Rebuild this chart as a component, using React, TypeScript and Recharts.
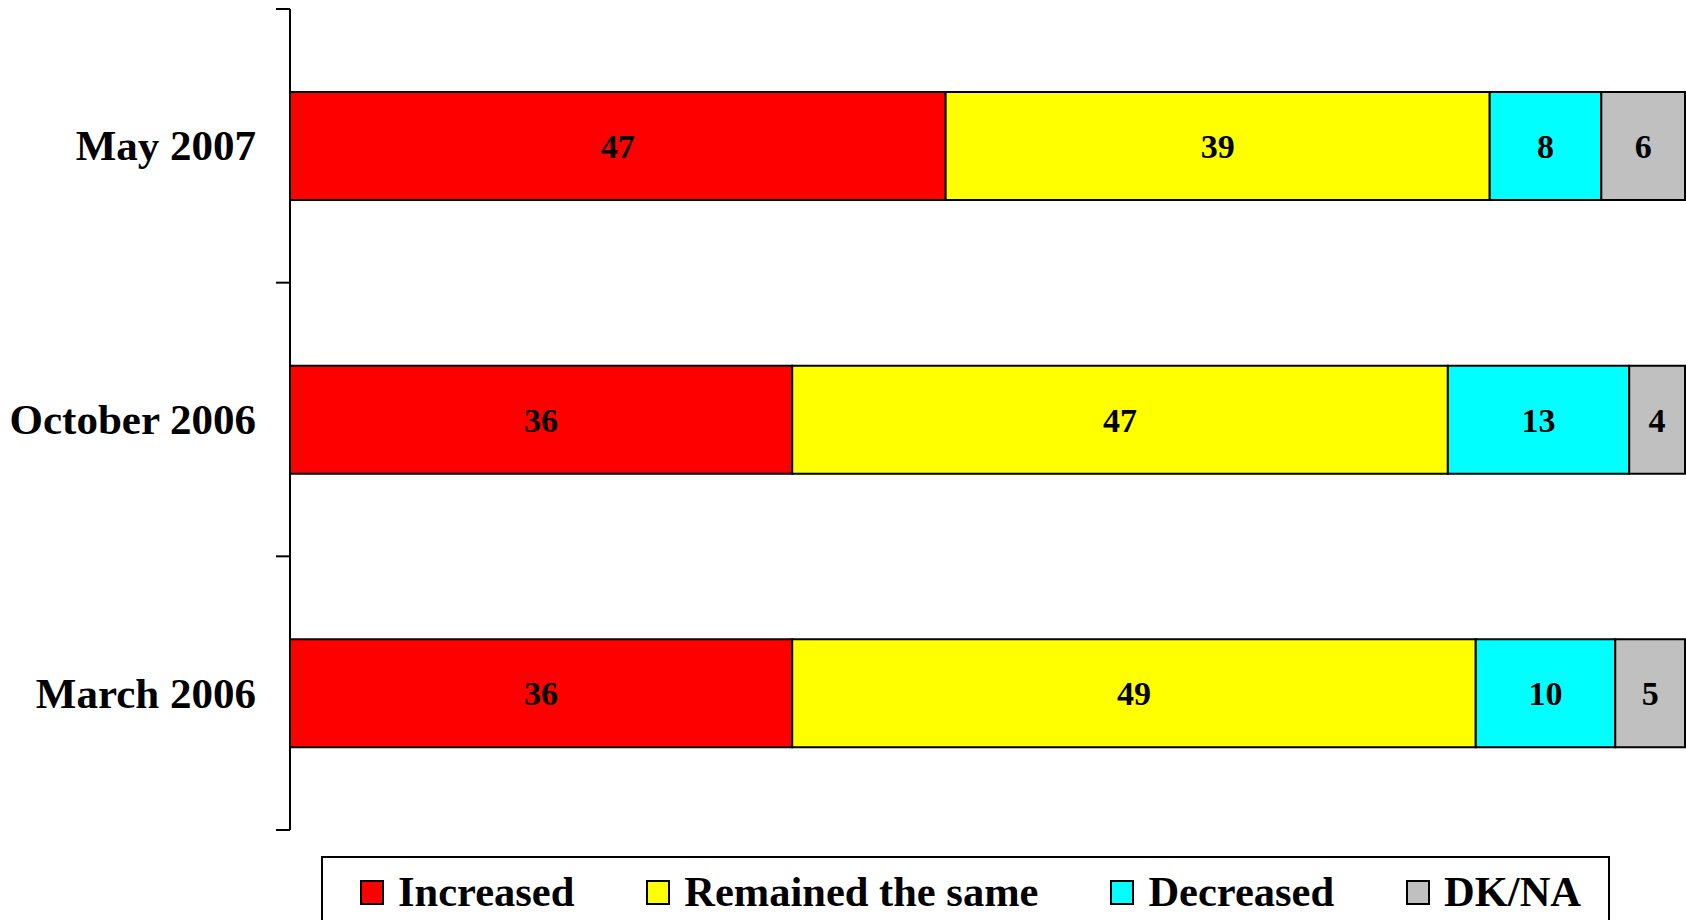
import React from 'react';
import { BarChart, Bar, XAxis, YAxis, LabelList } from 'recharts';

const periods = ['May 2007', 'October 2006', 'March 2006'];
const increased = [47, 36, 36];
const remained = [39, 47, 49];
const decreased = [8, 13, 10];
const dkna = [6, 4, 5];

const series = [
    { key: 'increased', label: 'Increased', color: '#ff0000' },
    { key: 'remained', label: 'Remained the same', color: '#ffff00' },
    { key: 'decreased', label: 'Decreased', color: '#00ffff' },
    { key: 'dkna', label: 'DK/NA', color: '#c0c0c0' },
];

const chartData = periods.map((name, i) => ({
    name,
    increased: increased[i],
    remained: remained[i],
    decreased: decreased[i],
    dkna: dkna[i],
}));

const FONT = '"Liberation Serif", "Times New Roman", serif';
const W = 1686;
const H = 920;
const TOP = 9;
const BOTTOM = 830;
const HALF_BAND = (BOTTOM - TOP) / periods.length / 2;

// label on the left plus Excel-style tick marks at the band edges
const CategoryTick = (props: any) => {
    const { x, y, payload, index } = props;
    return (
        <g>
            <text
                x={x}
                y={y}
                textAnchor="end"
                dominantBaseline="central"
                fontFamily={FONT}
                fontWeight="bold"
                fontSize={43}
                fill="#000"
            >
                {payload.value}
            </text>
            <line x1={x + 20} x2={x + 34} y1={y - HALF_BAND} y2={y - HALF_BAND} stroke="#000" strokeWidth={2} />
            {index === periods.length - 1 && (
                <line x1={x + 20} x2={x + 34} y1={y + HALF_BAND} y2={y + HALF_BAND} stroke="#000" strokeWidth={2} />
            )}
        </g>
    );
};

const App: React.FC = () => {
    return (
        <div style={{ position: 'absolute', left: 0, top: 0, width: W, height: H, overflow: 'hidden', background: '#fff' }}>
            <BarChart
                width={W}
                height={H}
                layout="vertical"
                data={chartData}
                margin={{ top: TOP, right: 1, bottom: H - BOTTOM, left: 0 }}
                barSize={108}
            >
                <XAxis type="number" domain={[0, 100]} hide />
                <YAxis
                    type="category"
                    dataKey="name"
                    width={290}
                    tickLine={false}
                    tickSize={0}
                    tickMargin={34}
                    axisLine={{ stroke: '#000', strokeWidth: 2 }}
                    tick={<CategoryTick />}
                />
                {series.map((s) => (
                    <Bar
                        key={s.key}
                        dataKey={s.key}
                        stackId="a"
                        fill={s.color}
                        stroke="#000"
                        strokeWidth={2}
                        isAnimationActive={false}
                    >
                        <LabelList
                            dataKey={s.key}
                            position="center"
                            fill="#000"
                            fontFamily={FONT}
                            fontWeight="bold"
                            fontSize={34}
                        />
                    </Bar>
                ))}
            </BarChart>

            <div
                style={{
                    position: 'absolute',
                    left: 321,
                    top: 856,
                    width: 1289,
                    height: 80,
                    border: '2px solid #000',
                    boxSizing: 'border-box',
                    display: 'flex',
                    alignItems: 'flex-start',
                    paddingLeft: 37,
                    paddingTop: 10,
                    fontFamily: FONT,
                    fontWeight: 'bold',
                    fontSize: 42.5,
                    gap: 72,
                }}
            >
                {series.map((s) => (
                    <div key={s.key} style={{ display: 'flex', alignItems: 'center', gap: 14, lineHeight: '48px' }}>
                        <span
                            style={{
                                width: 24,
                                height: 25,
                                background: s.color,
                                border: '2px solid #000',
                                boxSizing: 'border-box',
                                display: 'inline-block',
                            }}
                        />
                        <span>{s.label}</span>
                    </div>
                ))}
            </div>
        </div>
    );
};

export default App;
